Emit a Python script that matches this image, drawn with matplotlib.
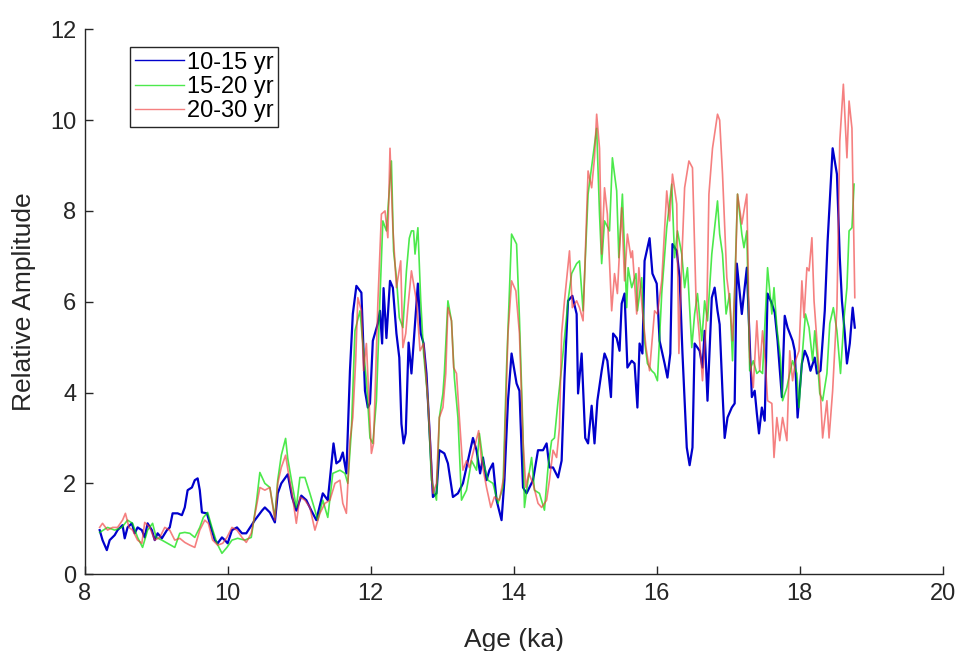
import numpy as np
import matplotlib
matplotlib.use("Agg")
import matplotlib.pyplot as plt

# =============================================================================
# Data (age in ka, relative amplitude)
# =============================================================================

age_10_15 = [8.21, 8.25, 8.31, 8.35, 8.42, 8.46, 8.53, 8.56, 8.60, 8.66, 8.70, 8.74, 8.80, 8.84,
             8.88, 8.94, 8.98, 9.02, 9.08, 9.15, 9.19, 9.23, 9.30, 9.36, 9.40, 9.44, 9.50, 9.54,
             9.58, 9.61, 9.64, 9.71, 9.75, 9.82, 9.86, 9.92, 9.96, 10.00, 10.06, 10.13, 10.20,
             10.26, 10.38, 10.48, 10.52, 10.59, 10.66, 10.70, 10.75, 10.84, 10.90, 10.96, 11.03,
             11.10, 11.17, 11.24, 11.33, 11.40, 11.48, 11.52, 11.57, 11.61, 11.66, 11.71, 11.75,
             11.80, 11.87, 11.89, 11.92, 11.96, 11.99, 12.03, 12.10, 12.13, 12.16, 12.18, 12.22,
             12.27, 12.31, 12.36, 12.40, 12.43, 12.46, 12.49, 12.53, 12.57, 12.66, 12.70, 12.74,
             12.78, 12.83, 12.87, 12.92, 12.96, 13.03, 13.08, 13.15, 13.22, 13.29, 13.36, 13.43,
             13.48, 13.53, 13.57, 13.62, 13.66, 13.71, 13.76, 13.83, 13.87, 13.92, 13.97, 14.04,
             14.08, 14.13, 14.18, 14.22, 14.27, 14.34, 14.41, 14.46, 14.50, 14.55, 14.62, 14.67,
             14.71, 14.76, 14.82, 14.88, 14.90, 14.95, 15.00, 15.04, 15.09, 15.13, 15.17, 15.23,
             15.27, 15.31, 15.36, 15.39, 15.44, 15.48, 15.51, 15.55, 15.59, 15.65, 15.69, 15.73,
             15.76, 15.80, 15.83, 15.90, 15.94, 16.00, 16.04, 16.08, 16.11, 16.15, 16.19, 16.22,
             16.28, 16.32, 16.36, 16.42, 16.46, 16.50, 16.53, 16.60, 16.64, 16.67, 16.71, 16.77,
             16.81, 16.85, 16.88, 16.92, 16.95, 16.99, 17.05, 17.09, 17.12, 17.19, 17.26, 17.33,
             17.37, 17.40, 17.43, 17.47, 17.51, 17.55, 17.61, 17.65, 17.69, 17.75, 17.79, 17.83,
             17.90, 17.93, 17.97, 18.03, 18.07, 18.11, 18.15, 18.21, 18.24, 18.29, 18.35, 18.39,
             18.46, 18.52, 18.56, 18.59, 18.63, 18.66, 18.70, 18.74, 18.77]
amp_10_15 = [0.97, 0.75, 0.53, 0.75, 0.86, 0.97, 1.08, 0.79, 1.03, 1.12, 0.90, 1.03, 0.97, 0.81,
             1.12, 0.97, 0.75, 0.90, 0.79, 0.97, 1.03, 1.34, 1.34, 1.30, 1.47, 1.85, 1.91, 2.07,
             2.11, 1.85, 1.36, 1.34, 1.12, 0.75, 0.68, 0.81, 0.75, 0.68, 0.97, 1.03, 0.90,
             0.90, 1.19, 1.40, 1.47, 1.36, 1.14, 1.78, 2.00, 2.20, 1.70, 1.40, 1.73,
             1.63, 1.40, 1.19, 1.78, 1.63, 2.88, 2.44, 2.50, 2.68, 2.22, 4.48, 5.73,
             6.35, 6.20, 5.36, 4.04, 3.67, 3.76, 5.14, 5.52, 5.80, 5.08, 6.30, 5.20,
             6.46, 6.31, 5.30, 4.77, 3.31, 2.88, 3.10, 5.10, 4.42, 6.40, 5.30, 5.08,
             4.42, 2.94, 1.70, 1.78, 2.73, 2.66, 2.44, 1.70, 1.78, 2.00, 2.50, 3.00,
             2.73, 2.22, 2.57, 2.07, 2.29, 2.44, 1.63, 1.19, 2.07, 3.82, 4.86, 4.20,
             4.04, 1.91, 1.78, 1.91, 2.07, 2.73, 2.73, 2.88, 2.35, 2.35, 2.13, 2.50,
             4.33, 6.02, 6.13, 5.73, 3.98, 4.86, 3.00, 2.88, 3.71, 2.88, 3.82, 4.48,
             4.86, 4.70, 3.90, 5.30, 5.20, 4.92, 5.96, 6.18, 4.55, 4.70, 4.64, 3.67,
             5.08, 4.86, 6.90, 7.40, 6.62, 6.40, 5.14, 4.86, 4.64, 4.33, 4.86, 7.27,
             7.12, 6.53, 4.86, 2.79, 2.40, 2.79, 5.08, 4.92, 4.55, 5.36, 3.82, 6.09,
             6.31, 5.80, 5.50, 4.00, 3.00, 3.45, 3.67, 3.76, 6.84, 5.73, 6.75, 3.90,
             4.04, 3.54, 3.10, 3.67, 3.38, 6.18, 5.96, 5.76, 5.14, 3.90, 5.69, 5.43,
             5.14, 4.92, 3.45, 4.64, 4.92, 4.77, 4.48, 4.77, 4.42, 4.48, 5.80, 7.34,
             9.38, 8.81, 6.97, 6.02, 5.30, 4.64, 5.08, 5.87, 5.43]

age_15_20 = [8.21, 8.32, 8.42, 8.52, 8.60, 8.67, 8.74, 8.81, 8.88, 8.95, 9.00, 9.08, 9.16, 9.26,
             9.33, 9.40, 9.47, 9.54, 9.61, 9.66, 9.72, 9.78, 9.85, 9.92, 9.99, 10.06, 10.14,
             10.24, 10.33, 10.40, 10.45, 10.52, 10.59, 10.66, 10.70, 10.75, 10.81, 10.84, 10.90,
             10.96, 11.01, 11.08, 11.15, 11.22, 11.26, 11.33, 11.40, 11.47, 11.57, 11.64, 11.68,
             11.73, 11.78, 11.85, 11.89, 11.94, 11.99, 12.03, 12.08, 12.13, 12.17, 12.22, 12.27,
             12.29, 12.32, 12.36, 12.40, 12.45, 12.50, 12.54, 12.57, 12.60, 12.62, 12.66, 12.70,
             12.74, 12.80, 12.85, 12.92, 12.96, 13.01, 13.03, 13.08, 13.13, 13.17, 13.22, 13.27,
             13.34, 13.41, 13.48, 13.52, 13.57, 13.64, 13.71, 13.78, 13.85, 13.90, 13.97, 14.04,
             14.08, 14.13, 14.15, 14.20, 14.25, 14.29, 14.36, 14.43, 14.48, 14.53, 14.57, 14.62,
             14.67, 14.71, 14.76, 14.81, 14.88, 14.92, 14.97, 15.04, 15.10, 15.16, 15.20, 15.23,
             15.27, 15.34, 15.38, 15.44, 15.47, 15.52, 15.58, 15.60, 15.65, 15.71, 15.73, 15.79,
             15.83, 15.87, 15.93, 15.97, 16.01, 16.07, 16.14, 16.21, 16.25, 16.29, 16.35, 16.39,
             16.43, 16.49, 16.53, 16.57, 16.63, 16.67, 16.71, 16.77, 16.85, 16.88, 16.92, 16.97,
             17.02, 17.06, 17.13, 17.19, 17.22, 17.26, 17.30, 17.35, 17.40, 17.44, 17.48, 17.55,
             17.61, 17.64, 17.68, 17.73, 17.76, 17.82, 17.86, 17.90, 17.96, 17.99, 18.04, 18.08,
             18.13, 18.18, 18.21, 18.24, 18.28, 18.32, 18.38, 18.42, 18.47, 18.52, 18.57, 18.62,
             18.66, 18.69, 18.73, 18.76]
amp_15_20 = [0.92, 1.03, 0.97, 1.03, 1.19, 1.12, 0.81, 0.59, 0.97, 1.12, 0.81, 0.75, 0.68, 0.59,
             0.90, 0.92, 0.90, 0.81, 1.03, 1.25, 1.36, 1.03, 0.68, 0.46, 0.59, 0.75, 0.79,
             0.75, 0.81, 1.56, 2.24, 2.00, 1.91, 1.25, 2.07, 2.62, 2.99, 2.55, 2.00,
             1.47, 2.13, 2.13, 1.78, 1.41, 1.19, 1.63, 1.25, 2.22, 2.29, 2.22, 2.00,
             3.16, 5.36, 5.80, 5.08, 4.26, 3.00, 2.88, 3.82, 6.09, 7.78, 7.56, 8.66,
             9.10, 7.12, 6.53, 5.65, 5.43, 6.68, 7.40, 7.56, 7.56, 7.05, 7.63, 6.02,
             4.86, 3.82, 2.07, 1.63, 3.45, 3.98, 4.42, 6.02, 5.58, 4.33, 3.45, 1.63,
             1.85, 2.50, 2.29, 3.10, 2.50, 2.07, 2.00, 1.56, 1.91, 4.55, 7.49, 7.27,
             5.65, 3.10, 1.47, 2.07, 2.57, 1.85, 1.78, 1.41, 2.35, 2.94, 3.00, 3.82,
             4.55, 5.20, 6.02, 6.62, 6.84, 6.90, 5.80, 8.37, 9.10, 9.82, 7.93, 6.84,
             7.78, 7.56, 9.17, 8.44, 6.97, 8.37, 5.87, 6.75, 6.31, 6.62, 5.80, 6.53,
             5.14, 4.64, 4.48, 4.42, 4.26, 6.18, 7.63, 8.59, 6.97, 7.56, 7.05, 6.31,
             6.75, 4.99, 5.73, 6.18, 5.14, 6.02, 5.58, 7.05, 8.22, 7.49, 7.05, 5.73,
             6.18, 4.70, 8.37, 7.49, 7.19, 7.56, 4.48, 4.70, 4.42, 4.48, 4.42, 6.75,
             5.73, 6.31, 5.43, 4.77, 3.82, 4.11, 4.42, 4.70, 4.42, 3.67, 4.92, 5.73,
             5.43, 4.70, 5.36, 4.86, 3.98, 3.82, 4.42, 5.52, 5.87, 5.36, 4.42, 5.65,
             6.31, 7.56, 7.63, 8.59]

age_20_30 = [8.21, 8.25, 8.32, 8.39, 8.46, 8.53, 8.57, 8.62, 8.67, 8.74, 8.80, 8.84, 8.91, 8.98,
             9.05, 9.12, 9.19, 9.26, 9.33, 9.40, 9.47, 9.54, 9.61, 9.68, 9.73, 9.79, 9.86, 9.93,
             9.99, 10.06, 10.13, 10.20, 10.26, 10.33, 10.40, 10.45, 10.52, 10.59, 10.66, 10.70,
             10.75, 10.81, 10.85, 10.90, 10.96, 11.01, 11.08, 11.15, 11.22, 11.29, 11.36, 11.43,
             11.50, 11.57, 11.61, 11.66, 11.71, 11.75, 11.79, 11.82, 11.87, 11.90, 11.94, 11.97,
             12.01, 12.04, 12.10, 12.15, 12.20, 12.24, 12.27, 12.31, 12.36, 12.42, 12.45, 12.49,
             12.52, 12.57, 12.64, 12.69, 12.74, 12.80, 12.83, 12.87, 12.92, 12.96, 13.01, 13.05,
             13.08, 13.13, 13.16, 13.20, 13.24, 13.29, 13.34, 13.38, 13.45, 13.51, 13.55, 13.62,
             13.68, 13.73, 13.80, 13.86, 13.92, 13.97, 14.03, 14.08, 14.13, 14.17, 14.21, 14.27,
             14.34, 14.39, 14.46, 14.50, 14.55, 14.60, 14.64, 14.67, 14.71, 14.78, 14.82, 14.88,
             14.92, 14.97, 15.04, 15.09, 15.13, 15.16, 15.20, 15.23, 15.27, 15.31, 15.37, 15.41,
             15.45, 15.51, 15.55, 15.59, 15.64, 15.66, 15.72, 15.75, 15.80, 15.85, 15.90, 15.97,
             16.01, 16.07, 16.14, 16.18, 16.22, 16.28, 16.31, 16.35, 16.39, 16.45, 16.50, 16.55,
             16.59, 16.64, 16.70, 16.73, 16.78, 16.85, 16.88, 16.92, 16.98, 17.02, 17.06, 17.10,
             17.13, 17.19, 17.22, 17.26, 17.30, 17.35, 17.40, 17.44, 17.48, 17.52, 17.55, 17.61,
             17.64, 17.68, 17.72, 17.76, 17.82, 17.86, 17.90, 17.94, 17.99, 18.03, 18.06, 18.10,
             18.13, 18.17, 18.20, 18.24, 18.28, 18.32, 18.38, 18.41, 18.46, 18.52, 18.56, 18.61,
             18.66, 18.69, 18.73, 18.77]
amp_20_30 = [1.03, 1.12, 0.97, 1.03, 1.03, 1.19, 1.34, 1.03, 0.97, 0.75, 0.68, 1.14, 1.03, 0.75,
             0.81, 1.03, 0.97, 0.75, 0.79, 0.70, 0.64, 0.59, 0.97, 1.19, 1.12, 0.75, 0.64, 0.68,
             0.81, 1.03, 0.97, 0.81, 0.70, 0.90, 1.47, 1.91, 1.85, 1.91, 1.19, 2.00,
             2.35, 2.62, 2.22, 1.78, 1.12, 1.70, 1.63, 1.47, 0.97, 1.34, 1.56, 1.63,
             2.00, 2.07, 1.56, 1.34, 2.94, 3.45, 4.70, 6.09, 5.80, 4.48, 5.08, 4.04,
             2.66, 2.88, 5.96, 7.93, 8.00, 7.41, 9.38, 7.63, 6.31, 6.90, 4.99, 5.30,
             5.87, 6.68, 6.02, 4.92, 5.08, 3.82, 3.00, 1.78, 2.00, 3.45, 3.67, 4.42,
             5.87, 5.58, 4.55, 4.42, 3.45, 2.29, 2.50, 2.35, 2.79, 3.16, 2.50, 1.91,
             1.47, 1.70, 1.63, 2.13, 5.30, 6.46, 6.24, 5.30, 2.94, 1.91, 2.22, 2.00,
             1.56, 1.47, 1.63, 2.07, 2.73, 2.57, 3.23, 5.30, 6.02, 7.12, 5.87, 6.02,
             5.87, 5.58, 8.88, 8.51, 9.17, 10.13, 9.38, 7.05, 8.51, 7.93, 5.80, 6.62,
             6.18, 8.07, 6.46, 7.49, 6.97, 7.12, 5.73, 6.75, 5.80, 4.99, 4.48, 5.80,
             5.73, 6.46, 8.44, 7.78, 8.81, 8.15, 4.86, 6.90, 8.51, 9.10, 8.95, 6.02,
             5.36, 4.26, 5.73, 8.37, 9.38, 10.13, 10.00, 8.81, 6.53, 6.02, 5.14, 6.62,
             8.37, 7.71, 8.00, 8.37, 4.77, 4.11, 5.58, 4.48, 5.36, 4.64, 3.82, 3.76,
             2.57, 3.45, 2.94, 3.45, 2.94, 4.92, 4.26, 4.70, 4.92, 6.46, 5.65, 6.75,
             6.68, 7.41, 6.02, 5.14, 4.26, 3.00, 3.82, 3.00, 4.04, 5.87, 9.54, 10.79,
             9.17, 10.42, 9.82, 6.09]

labels = ['10-15 yr', '15-20 yr', '20-30 yr']
xticks = [8, 10, 12, 14, 16, 18, 20]
yticks = [0, 2, 4, 6, 8, 10, 12]

# =============================================================================
# Figure
# =============================================================================

plt.rcParams['font.family'] = ['Liberation Sans', 'DejaVu Sans']
axis_color = '#262626'

fig = plt.figure(figsize=(9.62, 6.51), dpi=100)
ax = fig.add_axes([0.088, 0.118, 0.892, 0.837])

ax.plot(age_10_15, amp_10_15, color='#0000CC', linewidth=1.6, label=labels[0])
ax.plot(age_15_20, amp_15_20, color='#00E000', linewidth=1.2, alpha=0.7, label=labels[1])
ax.plot(age_20_30, amp_20_30, color='#F03C3C', linewidth=1.2, alpha=0.65, label=labels[2])

ax.set_xlim(8, 20)
ax.set_ylim(0, 12)
ax.set_xticks(xticks)
ax.set_yticks(yticks)
ax.set_xlabel('Age (ka)', fontsize=19, color=axis_color, labelpad=17)
ax.set_ylabel('Relative Amplitude', fontsize=19, color=axis_color, labelpad=10)

for side in ['top', 'right']:
    ax.spines[side].set_visible(False)
for side in ['left', 'bottom']:
    ax.spines[side].set_color(axis_color)
    ax.spines[side].set_linewidth(1.0)
ax.tick_params(direction='in', length=6, width=1.0, colors=axis_color,
               labelsize=17, pad=6)

leg = ax.legend(loc='upper left', bbox_to_anchor=(130 / 962, 1 - 47 / 651),
                bbox_transform=fig.transFigure, borderaxespad=0, fontsize=17,
                fancybox=False, framealpha=1, edgecolor=axis_color,
                handlelength=2.1, handletextpad=0.1, labelspacing=0.1,
                borderpad=0.2)
leg.get_frame().set_linewidth(1.0)
for line in leg.get_lines():
    line.set_linewidth(1.0)

fig.savefig('out.png', dpi=100)
